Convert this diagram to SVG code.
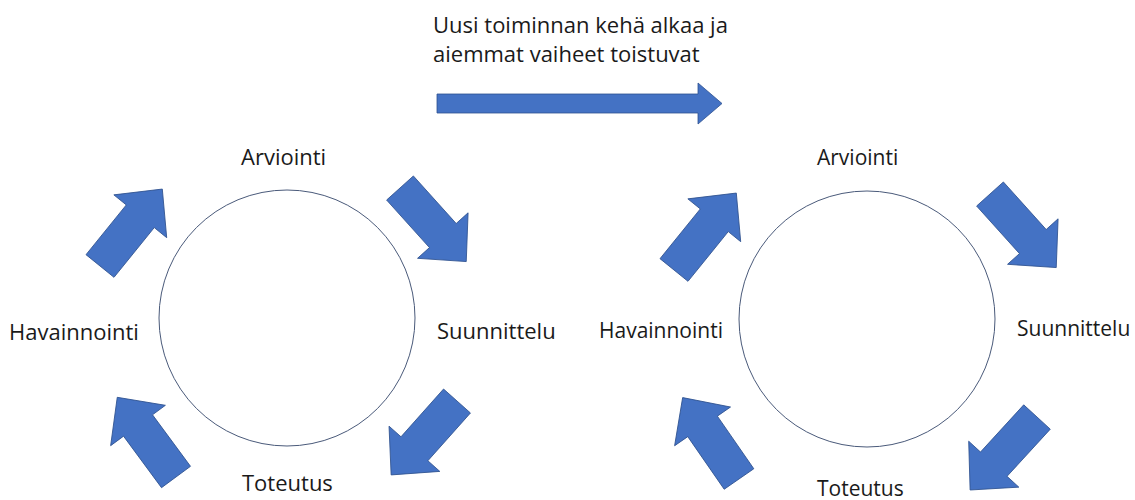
<svg xmlns="http://www.w3.org/2000/svg" width="1135" height="500" viewBox="0 0 1135 500">
<style>
.lbl{font-family:"Open Sans","Noto Sans",sans-serif;font-size:22px;fill:#1a1a1a}
.sm{font-size:21px}
.arr{fill:#4472C4;stroke:#2F528F;stroke-width:0.8}
.cyc{fill:#fff;stroke:#4a5a7a;stroke-width:1}
</style>
<defs>
<polygon id="blk" points="0,-18 64,-18 64,-34 99,0 64,34 64,18 0,18"/>
</defs>
<rect width="1135" height="500" fill="#fff"/>
<g id="caption">
<text class="lbl" x="433" y="33">Uusi toiminnan kehä alkaa ja</text>
<text class="lbl" x="433" y="62">aiemmat vaiheet toistuvat</text>
</g>
<g id="cycle1">
<circle class="cyc" cx="287" cy="318" r="128"/>
<text class="lbl" x="241" y="165">Arviointi</text>
<text class="lbl" x="437" y="339">Suunnittelu</text>
<text class="lbl" x="242" y="491">Toteutus</text>
<text class="lbl" x="9" y="340">Havainnointi</text>
</g>
<g id="cycle2">
<circle class="cyc" cx="867" cy="319" r="128"/>
<text class="lbl sm" x="817" y="165">Arviointi</text>
<text class="lbl sm" x="1017" y="336">Suunnittelu</text>
<text class="lbl sm" x="817" y="496">Toteutus</text>
<text class="lbl sm" x="599" y="338">Havainnointi</text>
</g>
<g id="connectors">
<polygon class="arr" points="437,94 698,94 698,83 722,103.5 698,124 698,113 437,113"/>
<use href="#blk" class="arr" transform="translate(100,266) rotate(-51)"/>
<use href="#blk" class="arr" transform="translate(400,188) rotate(48)"/>
<use href="#blk" class="arr" transform="translate(176,477) rotate(-126.4)"/>
<use href="#blk" class="arr" transform="translate(457,401) rotate(131.7)"/>
<use href="#blk" class="arr" transform="translate(674,270) rotate(-51)"/>
<use href="#blk" class="arr" transform="translate(990,194) rotate(48)"/>
<use href="#blk" class="arr" transform="translate(739,479) rotate(-124.7)"/>
<use href="#blk" class="arr" transform="translate(1037,417) rotate(132.5)"/>
</g>
</svg>
